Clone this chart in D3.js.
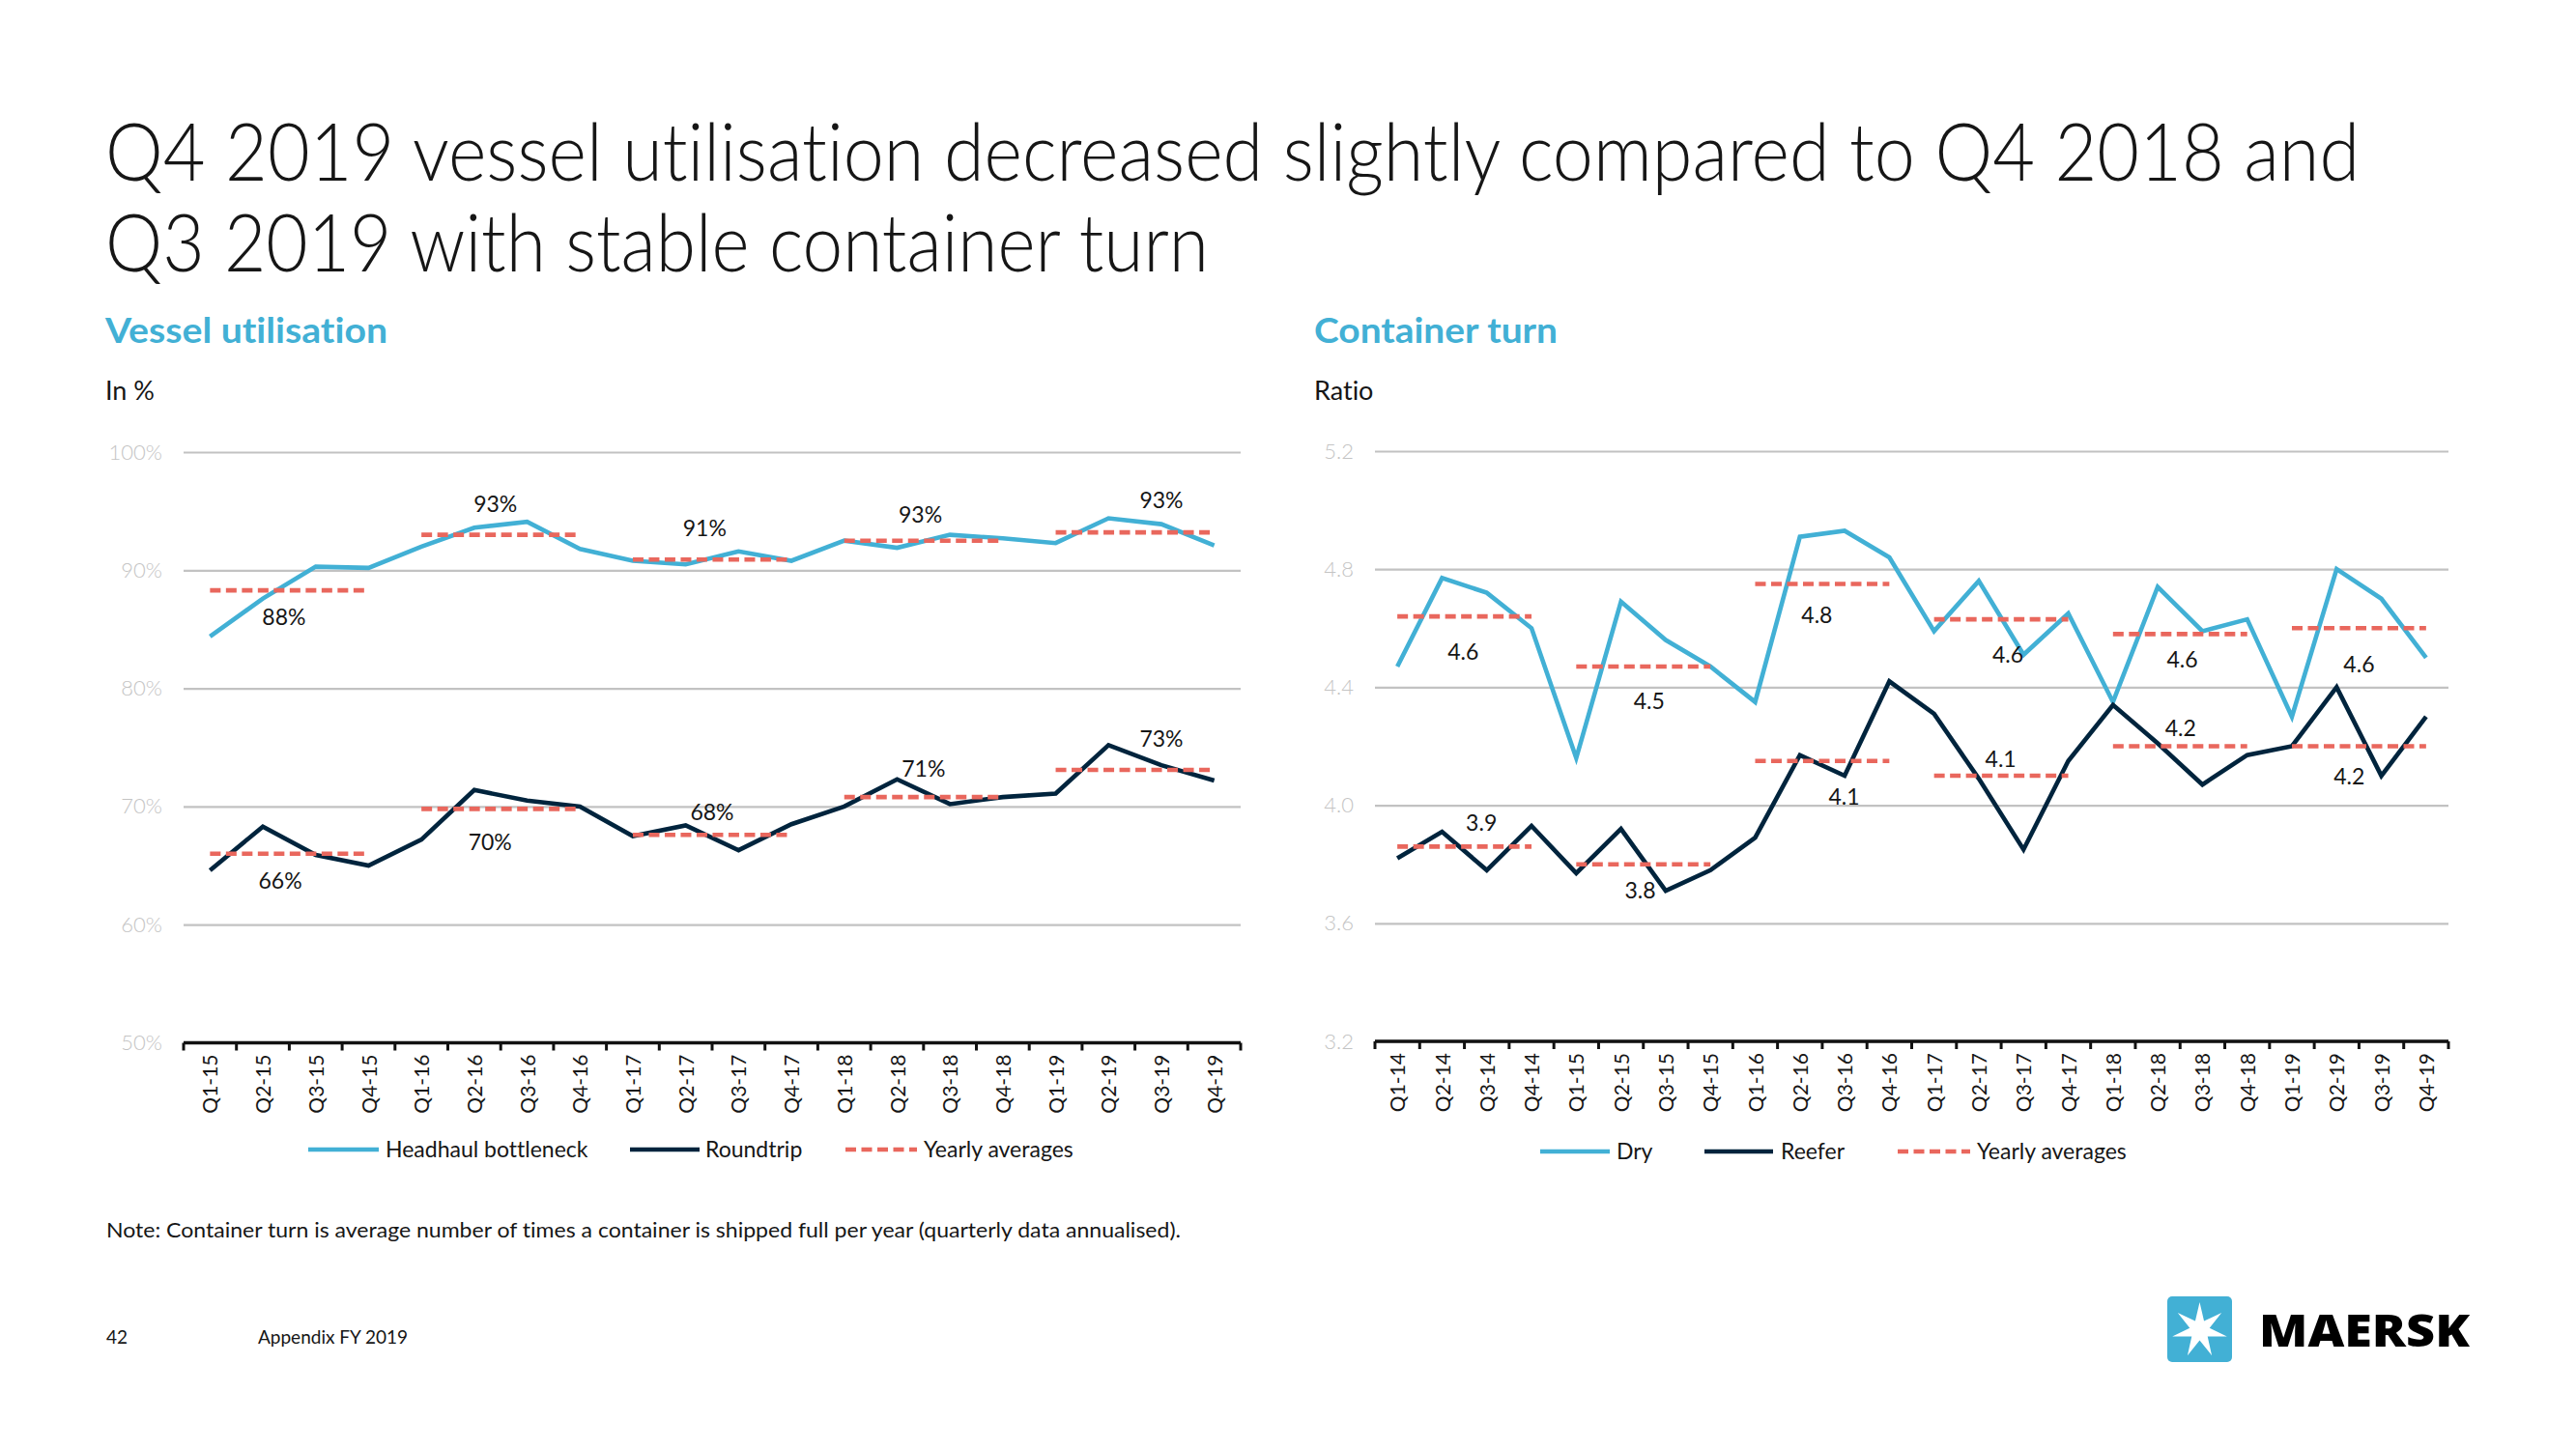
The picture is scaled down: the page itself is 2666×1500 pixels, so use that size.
<!DOCTYPE html>
<html><head><meta charset="utf-8">
<script src="https://cdn.jsdelivr.net/npm/d3@7"></script>
<style>html,body{margin:0;padding:0;background:#fff;} svg{display:block;font-family:Lato,"Open Sans",sans-serif;font-variant-ligatures:none;font-feature-settings:"liga" 0,"clig" 0;}</style>
</head><body>
<svg id="c" width="2666" height="1500"></svg>
<script>
// ---------------- DATA ----------------
const vuQuarters = ["Q1-15","Q2-15","Q3-15","Q4-15","Q1-16","Q2-16","Q3-16","Q4-16","Q1-17","Q2-17","Q3-17","Q4-17","Q1-18","Q2-18","Q3-18","Q4-18","Q1-19","Q2-19","Q3-19","Q4-19"];
const headhaul  = [84.4, 87.6, 90.3, 90.2, 92.0, 93.6, 94.1, 91.8, 90.8, 90.5, 91.6, 90.8, 92.5, 91.9, 93.0, 92.7, 92.3, 94.4, 93.9, 92.1];
const roundtrip = [64.6, 68.3, 65.9, 65.0, 67.2, 71.4, 70.5, 70.0, 67.5, 68.4, 66.3, 68.5, 70.0, 72.3, 70.2, 70.8, 71.1, 75.2, 73.5, 72.2];
const vuYears = ["2015","2016","2017","2018","2019"];
const headhaulAvg = [88.3, 93.0, 90.9, 92.5, 93.2];
const roundtripAvg = [66.0, 69.8, 67.6, 70.8, 73.1];
const headhaulAvgLabels = ["88%","93%","91%","93%","93%"];
const roundtripAvgLabels = ["66%","70%","68%","71%","73%"];
const vuTicks = [50, 60, 70, 80, 90, 100];
const vuTickLabels = ["50%","60%","70%","80%","90%","100%"];

const ctQuarters = ["Q1-14","Q2-14","Q3-14","Q4-14","Q1-15","Q2-15","Q3-15","Q4-15","Q1-16","Q2-16","Q3-16","Q4-16","Q1-17","Q2-17","Q3-17","Q4-17","Q1-18","Q2-18","Q3-18","Q4-18","Q1-19","Q2-19","Q3-19","Q4-19"];
const dry    = [4.47, 4.77, 4.72, 4.60, 4.16, 4.69, 4.56, 4.47, 4.35, 4.91, 4.93, 4.84, 4.59, 4.76, 4.51, 4.65, 4.35, 4.74, 4.59, 4.63, 4.30, 4.80, 4.70, 4.50];
const reefer = [3.82, 3.91, 3.78, 3.93, 3.77, 3.92, 3.71, 3.78, 3.89, 4.17, 4.10, 4.42, 4.31, 4.09, 3.85, 4.15, 4.34, 4.21, 4.07, 4.17, 4.20, 4.40, 4.10, 4.30];
const ctYears = ["2014","2015","2016","2017","2018","2019"];
const dryAvg    = [4.64, 4.47, 4.75, 4.63, 4.58, 4.60];
const reeferAvg = [3.86, 3.80, 4.15, 4.10, 4.20, 4.20];
const dryAvgLabels    = ["4.6","4.5","4.8","4.6","4.6","4.6"];
const reeferAvgLabels = ["3.9","3.8","4.1","4.1","4.2","4.2"];
const ctTicks = [3.2, 3.6, 4.0, 4.4, 4.8, 5.2];
const ctTickLabels = ["3.2","3.6","4.0","4.4","4.8","5.2"];

// ---------------- LAYOUT / STYLE ----------------
const BLUE = "#42B0D5", NAVY = "#00243D", RED = "#E9675D", GRID = "#c2c2c2", TXT = "#161616";
const svg = d3.select("#c");

function fitText(sel, w){ sel.attr("textLength", w).attr("lengthAdjust","spacingAndGlyphs"); return sel; }

function drawChart(o){
  const n = o.quarters.length;
  const x = d3.scalePoint().domain(o.quarters).range([o.x0, o.x1]).padding(0.5);
  const band = d3.scaleBand().domain(o.quarters).range([o.x0, o.x1]);
  const y = d3.scaleLinear().domain([o.ticks[0], o.ticks[o.ticks.length-1]]).range([o.yBot, o.yTop]);
  const idx = d3.scaleLinear().domain([0, n-1]).range([x(o.quarters[0]), x(o.quarters[n-1])]);
  const g = svg.append("g");

  // gridlines + y labels
  const ya = g.append("g").attr("transform", `translate(${o.x0},0)`)
    .call(d3.axisLeft(y).tickValues(o.ticks).tickSize(-(o.x1-o.x0)).tickPadding(o.labelPad)
      .tickFormat((d,i)=>o.tickLabels[i]));
  ya.select(".domain").remove();
  ya.selectAll(".tick line").attr("stroke", GRID).attr("stroke-width", 2.2);
  ya.selectAll(".tick text").attr("fill", "#c4c4c4").style("font-size","22px").style("font-family","Lato").attr("font-weight",300);

  // x axis
  const xa = g.append("g").attr("transform", `translate(0,${o.yBot})`)
    .call(d3.axisBottom(x).tickSize(0));
  xa.select(".domain").remove();
  xa.selectAll(".tick text").attr("transform","rotate(-90)").attr("text-anchor","end")
    .attr("x", -12).attr("y", 0).attr("dy", "0.36em")
    .attr("fill", TXT).style("font-size","21px").style("font-family","Lato");
  g.append("line").attr("x1", o.x0).attr("x2", o.x1).attr("y1", o.yBot).attr("y2", o.yBot)
    .attr("stroke", "#111").attr("stroke-width", 3.5);
  g.selectAll(".edge").data(d3.range(n+1)).enter().append("line")
    .attr("x1", i => o.x0 + i*band.step()).attr("x2", i => o.x0 + i*band.step())
    .attr("y1", o.yBot).attr("y2", o.yBot + 8).attr("stroke","#111").attr("stroke-width", 3);

  // series lines
  const line = d3.line().x((d,i)=>x(o.quarters[i])).y(d=>y(d));
  [[o.a, BLUE],[o.b, NAVY]].forEach(([s,c])=>{
    g.append("path").datum(s).attr("d", line).attr("fill","none").attr("stroke", c)
      .attr("stroke-width", 4.6).attr("stroke-linejoin","miter");
  });

  // yearly averages
  [o.avgA, o.avgB].forEach(avg=>{
    g.selectAll(null).data(avg).enter().append("line")
      .attr("x1",(d,j)=>x(o.quarters[4*j])).attr("x2",(d,j)=>x(o.quarters[4*j+3]))
      .attr("y1", d=>y(d)).attr("y2", d=>y(d))
      .attr("stroke", RED).attr("stroke-width", 4.6).attr("stroke-dasharray","11,5.5");
  });

  // average labels
  [[o.avgA, o.labA, o.posA, o.offA],[o.avgB, o.labB, o.posB, o.offB]].forEach(([avg, lab, pos, off])=>{
    g.selectAll(null).data(avg).enter().append("text")
      .attr("x",(d,j)=>idx(pos[j])).attr("y",(d,j)=>y(d) - off[j]).attr("dy","0.36em")
      .attr("text-anchor","middle").attr("fill", TXT).style("font-size","23px").style("font-family","Lato")
      .text((d,j)=>lab[j]);
  });
}

drawChart({
  quarters: vuQuarters, a: headhaul, b: roundtrip, avgA: headhaulAvg, avgB: roundtripAvg,
  labA: headhaulAvgLabels, labB: roundtripAvgLabels,
  posA: [1.4, 5.4, 9.36, 13.44, 18.0], offA: [-28, 32, 33, 27, 33],
  posB: [1.33, 5.3, 9.5, 13.5, 18.0], offB: [-28, -34, 24, 29, 32],
  ticks: vuTicks, tickLabels: vuTickLabels,
  x0: 190, x1: 1284, yTop: 468, yBot: 1079.5, labelPad: 22
});
drawChart({
  quarters: ctQuarters, a: dry, b: reefer, avgA: dryAvg, avgB: reeferAvg,
  labA: dryAvgLabels, labB: reeferAvgLabels,
  posA: [1.47, 5.63, 9.38, 13.65, 17.55, 21.5], offA: [-37, -36, -32, -37, -26, -37],
  posB: [1.88, 5.43, 9.99, 13.49, 17.51, 21.28], offB: [25, -27, -37, 17, 19, -31],
  ticks: ctTicks, tickLabels: ctTickLabels,
  x0: 1423, x1: 2534, yTop: 467, yBot: 1078, labelPad: 22
});

// ---------------- TEXTS ----------------
fitText(svg.append("text").attr("x",109).attr("y",187).attr("fill",TXT)
  .style("font-size","82px").attr("font-weight",300)
  .text("Q4 2019 vessel utilisation decreased slightly compared to Q4 2018 and"), 2333);
fitText(svg.append("text").attr("x",109).attr("y",281).attr("fill",TXT)
  .style("font-size","82px").attr("font-weight",300)
  .text("Q3 2019 with stable container turn"), 1142);

fitText(svg.append("text").attr("x",109).attr("y",355).attr("fill",BLUE)
  .style("font-size","36px").attr("font-weight",700).text("Vessel utilisation"), 292);
fitText(svg.append("text").attr("x",1360).attr("y",355).attr("fill",BLUE)
  .style("font-size","36px").attr("font-weight",700).text("Container turn"), 252);
svg.append("text").attr("x",109).attr("y",414).attr("fill",TXT).style("font-size","27px").text("In %");
svg.append("text").attr("x",1360).attr("y",414).attr("fill",TXT).style("font-size","27px").text("Ratio");

// legends
function legend(items, yy){
  items.forEach(it=>{
    const l = svg.append("line").attr("x1",it.x1).attr("x2",it.x2).attr("y1",yy).attr("y2",yy)
      .attr("stroke", it.c).attr("stroke-width", 4.6);
    if (it.dash) l.attr("stroke-dasharray","11,5.5");
    svg.append("text").attr("x", it.tx).attr("y", yy+8).attr("fill",TXT)
      .style("font-size","23px").text(it.label);
  });
}
legend([
  {x1:319, x2:392, tx:399, c:BLUE, label:"Headhaul bottleneck"},
  {x1:652, x2:724, tx:730, c:NAVY, label:"Roundtrip"},
  {x1:875, x2:949, tx:956, c:RED, dash:true, label:"Yearly averages"}
], 1190);
legend([
  {x1:1594, x2:1666, tx:1673, c:BLUE, label:"Dry"},
  {x1:1764, x2:1835, tx:1843, c:NAVY, label:"Reefer"},
  {x1:1964, x2:2039, tx:2046, c:RED, dash:true, label:"Yearly averages"}
], 1192);

fitText(svg.append("text").attr("x",110).attr("y",1281).attr("fill",TXT).style("font-size","21px")
  .text("Note: Container turn is average number of times a container is shipped full per year (quarterly data annualised)."), 1112);
svg.append("text").attr("x",110).attr("y",1391).attr("fill",TXT).style("font-size","19px").text("42");
svg.append("text").attr("x",267).attr("y",1391).attr("fill",TXT).style("font-size","19px").text("Appendix FY 2019");

// logo
svg.append("rect").attr("x",2243).attr("y",1342).attr("width",67).attr("height",68).attr("rx",5).attr("fill",BLUE);
const cx = 2276.5, cy = 1377, R = 29, r = 10.5;
const pts = d3.range(14).map(k=>{
  const a = Math.PI * k / 7; const rr = k%2===0 ? R : r;
  return [cx + rr*Math.sin(a), cy - rr*Math.cos(a)];
});
svg.append("path").attr("d", d3.line()(pts) + "Z").attr("fill","#fff");
fitText(svg.append("text").attr("x",2338).attr("y",1394).attr("fill","#000")
  .style("font-family","'Open Sans'").style("font-size","46px").attr("font-weight",800).text("MAERSK"), 218);
</script></body></html>
